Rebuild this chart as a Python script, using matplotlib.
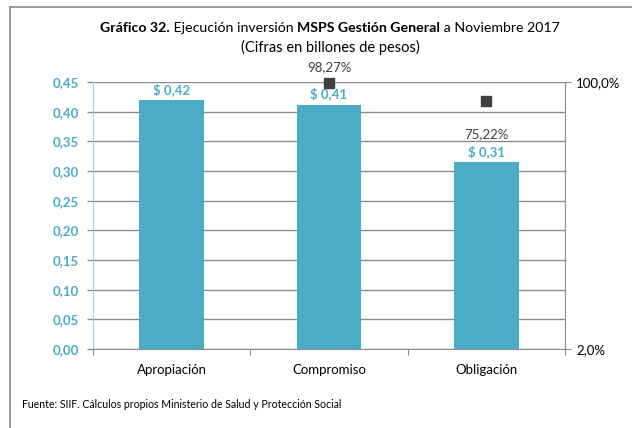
import matplotlib
matplotlib.use("Agg")
import matplotlib.pyplot as plt
from matplotlib.lines import Line2D
from matplotlib.ticker import FixedLocator, NullLocator

categories = ["Apropiación", "Compromiso", "Obligación"]
values = [0.419, 0.412, 0.315]
value_labels = ["$ 0,42", "$ 0,41", "$ 0,31"]
pct_cats = [1, 2]
pct_values = [0.9827, 0.7522]
pct_labels = ["98,27%", "75,22%"]
left_ticks = [0.00, 0.05, 0.10, 0.15, 0.20, 0.25, 0.30, 0.35, 0.40, 0.45]
right_ticks = [0.02, 1.0]
right_labels = ["2,0%", "100,0%"]

BLUE = "#4BACC6"
DARK = "#404040"
GRID = "#8C8C8C"

plt.rcParams['font.family'] = ['Lato', 'DejaVu Sans']

W, H = 632, 428
fig = plt.figure(figsize=(W / 100, H / 100), dpi=100)

# outer frame
fig.add_artist(Line2D([10 / W, 10 / W], [0, 1 - 7 / H], color="#8C8C8C", lw=1.2, transform=fig.transFigure))
fig.add_artist(Line2D([10 / W, 1], [1 - 7 / H, 1 - 7 / H], color="#8C8C8C", lw=1.2, transform=fig.transFigure))

ax = fig.add_axes([93 / W, 1 - 349 / H, (565 - 93) / W, (349 - 82) / H])
x = list(range(len(categories)))
ax.bar(x, values, width=0.41, color=BLUE, zorder=3)
ax.set_xlim(-0.5, 2.5)
ax.set_ylim(0, 0.45)
ax.set_yticks(left_ticks)
ax.set_yticklabels([f"{t:.2f}".replace(".", ",") for t in left_ticks])
ax.tick_params(axis='y', colors=GRID, length=4, width=1, labelcolor=BLUE, labelsize=9.5, pad=6)
for lab in ax.get_yticklabels():
    lab.set_fontweight('bold')
ax.grid(axis='y', color=GRID, lw=1, zorder=0)
ax.set_axisbelow(True)
ax.xaxis.set_major_locator(FixedLocator([-0.5, 0.5, 1.5, 2.5]))
ax.xaxis.set_minor_locator(FixedLocator(x))
ax.set_xticklabels([], minor=False)
ax.set_xticklabels(categories, minor=True)
ax.tick_params(axis='x', which='major', length=4, color=GRID)
ax.tick_params(axis='x', which='minor', length=0, labelsize=9.5, labelcolor="#000000", pad=11)
for s in ['top', 'right']:
    ax.spines[s].set_visible(False)
ax.spines['left'].set_color("#9DD3E0")
ax.spines['bottom'].set_color(GRID)

for xi, v, lab in zip(x, values, value_labels):
    ax.annotate(lab, (xi, v), xytext=(0, 3), textcoords='offset points', ha='center', va='bottom',
                color=BLUE, fontweight='bold', fontsize=9.5)

ax2 = ax.twinx()
ax2.set_yscale('log')
ax2.set_ylim(0.02, 1.0)
ax2.yaxis.set_major_locator(FixedLocator(right_ticks))
ax2.yaxis.set_minor_locator(NullLocator())
ax2.set_yticklabels(right_labels)
ax2.tick_params(axis='y', colors=GRID, length=4, labelcolor="#000000", labelsize=9.5, pad=4)
for s in ['top', 'left', 'bottom']:
    ax2.spines[s].set_visible(False)
ax2.spines['right'].set_color(GRID)
ax2.scatter(pct_cats, pct_values, marker='s', s=55, color=DARK, zorder=5, clip_on=False)
ax2.annotate(pct_labels[0], (pct_cats[0], pct_values[0]), xytext=(0, 7), textcoords='offset points',
             ha='center', va='bottom', color=DARK, fontsize=9.5)
ax2.annotate(pct_labels[1], (pct_cats[1], pct_values[1]), xytext=(0, -19), textcoords='offset points',
             ha='center', va='top', color=DARK, fontsize=9.5)

# title with mixed weights
parts = [("Gráfico 32.", 'bold'), (" Ejecución inversión ", 'normal'), ("MSPS Gestión General", 'bold'),
         (" a Noviembre 2017", 'normal')]
fig.canvas.draw()
r = fig.canvas.get_renderer()
texts = []
for s, w in parts:
    t = fig.text(0, 1 - 28 / H, s, fontsize=10.2, fontweight=w, va='center', ha='left', color="#000000")
    texts.append(t)
widths = [t.get_window_extent(r).width for t in texts]
total = sum(widths)
cx = 330
start = cx - total / 2
for t, wd in zip(texts, widths):
    t.set_x(start / W)
    start += wd
fig.text(cx / W, 1 - 47 / H, "(Cifras en billones de pesos)", fontsize=10.5, ha='center', va='center')

fig.text(22 / W, 1 - 405 / H, "Fuente: SIIF. Cálculos propios Ministerio de Salud y Protección Social",
         fontsize=7.6, ha='left', va='center', color="#000000")

fig.savefig("out.png", dpi=100)
